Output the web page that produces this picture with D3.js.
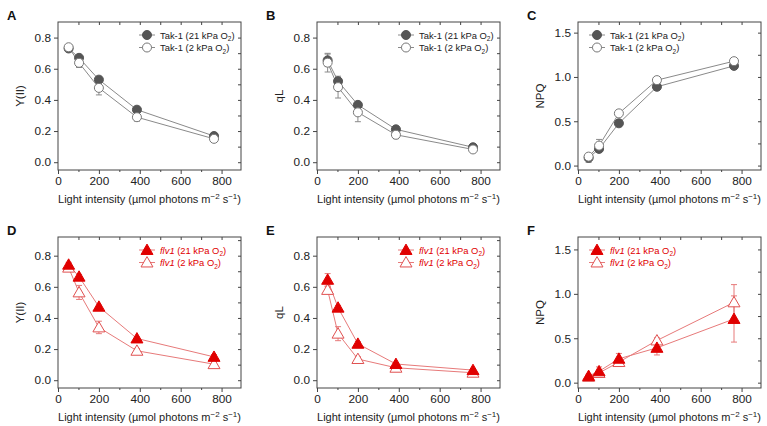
<!DOCTYPE html>
<html>
<head>
<meta charset="utf-8">
<script src="https://cdn.jsdelivr.net/npm/d3@7"></script>
<style>
  body { margin: 0; background: #fff; }
  svg { font-family: "Liberation Sans", Arial, sans-serif; }
</style>
</head>
<body>
<svg id="chart" width="767" height="426"></svg>
<script>
// light intensities (x)
var lightX = [52, 103, 200, 386, 763];

// Tak-1 values
var takYII21 = [0.73, 0.67, 0.53, 0.337, 0.168];
var takYII2 = [0.738, 0.638, 0.477, 0.289, 0.15];
var takYII21Err = [0.01, 0.015, 0.015, 0.015, 0.01];
var takYII2Err = [0.015, 0.03, 0.045, 0.025, 0.015];

var takQL21 = [0.654, 0.52, 0.368, 0.211, 0.096];
var takQL2 = [0.639, 0.482, 0.32, 0.176, 0.082];
var takQL21Err = [0.04, 0.02, 0.015, 0.015, 0.01];
var takQL2Err = [0.06, 0.07, 0.06, 0.025, 0.01];

var takNPQ21 = [0.087, 0.188, 0.477, 0.889, 1.125];
var takNPQ2 = [0.101, 0.225, 0.589, 0.964, 1.178];
var takNPQ21Err = [0.05, 0.03, 0.03, 0.02, 0.02];
var takNPQ2Err = [0.03, 0.07, 0.03, 0.03, 0.02];

// flv1 values
var flvYII21 = [0.742, 0.665, 0.472, 0.268, 0.15];
var flvYII2 = [0.723, 0.564, 0.339, 0.189, 0.103];
var flvYII21Err = [0.015, 0.015, 0.01, 0.01, 0.015];
var flvYII2Err = [0.02, 0.045, 0.04, 0.015, 0.015];

var flvQL21 = [0.645, 0.466, 0.234, 0.104, 0.065];
var flvQL2 = [0.58, 0.299, 0.136, 0.08, 0.048];
var flvQL21Err = [0.04, 0.015, 0.015, 0.01, 0.01];
var flvQL2Err = [0.02, 0.045, 0.015, 0.01, 0.01];

var flvNPQ21 = [0.075, 0.128, 0.269, 0.392, 0.717];
var flvNPQ2 = [0.065, 0.109, 0.232, 0.475, 0.904];
var flvNPQ21Err = [0.02, 0.05, 0.06, 0.08, 0.26];
var flvNPQ2Err = [0.01, 0.03, 0.03, 0.03, 0.2];

// tick labels
var xTicks = [0, 200, 400, 600, 800];
var yTicksSmall = [0.0, 0.2, 0.4, 0.6, 0.8];
var yTicksNPQ = [0.0, 0.5, 1.0, 1.5];

var gray = {line: "#8a8a8a", fill: "#555", stroke: "#777", text: "#222"};
var red = {line: "#e77a7a", fill: "#e00000", stroke: "#e05050", text: "#e00000"};

var panels = [
  {letter: "A", col: 0, row: 0, ylab: "Y(II)", yd: [-0.05, 0.9], yt: yTicksSmall, minor: 0.1,
   s21: takYII21, s2: takYII2, e21: takYII21Err, e2: takYII2Err, c: gray, name: "Tak-1", tri: false, legLeft: false},
  {letter: "B", col: 1, row: 0, ylab: "qL", yd: [-0.05, 0.9], yt: yTicksSmall, minor: 0.1,
   s21: takQL21, s2: takQL2, e21: takQL21Err, e2: takQL2Err, c: gray, name: "Tak-1", tri: false, legLeft: false},
  {letter: "C", col: 2, row: 0, ylab: "NPQ", yd: [-0.05, 1.62], yt: yTicksNPQ, minor: 0.25,
   s21: takNPQ21, s2: takNPQ2, e21: takNPQ21Err, e2: takNPQ2Err, c: gray, name: "Tak-1", tri: false, legLeft: true},
  {letter: "D", col: 0, row: 1, ylab: "Y(II)", yd: [-0.05, 0.92], yt: yTicksSmall, minor: 0.1,
   s21: flvYII21, s2: flvYII2, e21: flvYII21Err, e2: flvYII2Err, c: red, name: "flv1", tri: true, legLeft: false},
  {letter: "E", col: 1, row: 1, ylab: "qL", yd: [-0.05, 0.92], yt: yTicksSmall, minor: 0.1,
   s21: flvQL21, s2: flvQL2, e21: flvQL21Err, e2: flvQL2Err, c: red, name: "flv1", tri: true, legLeft: false},
  {letter: "F", col: 2, row: 1, ylab: "NPQ", yd: [-0.06, 1.64], yt: yTicksNPQ, minor: 0.25,
   s21: flvNPQ21, s2: flvNPQ2, e21: flvNPQ21Err, e2: flvNPQ2Err, c: red, name: "flv1", tri: true, legLeft: true}
];

var colLeft = [58, 317, 578];
var rowTop = [22, 237];
var rowBottom = [170, 388];
var plotW = 183;

var svg = d3.select("#chart");
var frameColor = "#444";

panels.forEach(function(p) {
  var left = colLeft[p.col], top = rowTop[p.row], bottom = rowBottom[p.row];
  var x = d3.scaleLinear().domain([0, 895]).range([left, left + plotW]);
  var y = d3.scaleLinear().domain(p.yd).range([bottom, top]);
  var g = svg.append("g");

  // panel letter
  g.append("text").attr("x", left - 51).attr("y", top - 2)
    .attr("font-size", 13).attr("font-weight", "bold").attr("fill", "#111").text(p.letter);

  // bottom axis
  g.append("g").attr("transform", "translate(0," + bottom + ")")
    .call(d3.axisBottom(x).tickValues(xTicks).tickSize(4).tickPadding(3).tickFormat(d3.format("d")));
  g.append("g").attr("transform", "translate(0," + bottom + ")")
    .call(d3.axisBottom(x).tickValues([100, 300, 500, 700]).tickSize(2).tickFormat(""));
  // top axis (inward)
  g.append("g").attr("transform", "translate(0," + top + ")")
    .call(d3.axisBottom(x).tickValues(d3.range(100, 900, 100)).tickSize(3).tickFormat(""));
  // left axis
  g.append("g").attr("transform", "translate(" + left + ",0)")
    .call(d3.axisLeft(y).tickValues(p.yt).tickSize(4).tickPadding(3).tickFormat(d3.format(".1f")));
  // right axis (inward)
  var rightTicks = d3.range(0, p.yd[1], p.minor);
  g.append("g").attr("transform", "translate(" + (left + plotW) + ",0)")
    .call(d3.axisLeft(y).tickValues(rightTicks).tickSize(3).tickFormat(""));

  g.selectAll(".domain").remove();
  g.selectAll(".tick line").attr("stroke", frameColor);
  g.selectAll(".tick text").attr("font-size", 11.8).attr("fill", "#222")
    .attr("font-family", "Liberation Sans, Arial, sans-serif");

  // frame
  g.append("rect").attr("x", left).attr("y", top).attr("width", plotW).attr("height", bottom - top)
    .attr("fill", "none").attr("stroke", frameColor).attr("stroke-width", 1);

  // y label
  g.append("text")
    .attr("transform", "translate(" + (left - 34) + "," + ((top + bottom) / 2) + ") rotate(-90)")
    .attr("text-anchor", "middle").attr("font-size", 11.5).attr("fill", "#222").text(p.ylab);

  // x label
  var xl = g.append("text").attr("x", left + plotW / 2).attr("y", bottom + 33)
    .attr("text-anchor", "middle").attr("font-size", 11).attr("fill", "#222");
  xl.append("tspan").text("Light intensity (\u00b5mol photons m");
  xl.append("tspan").attr("dy", -4).attr("font-size", 8).text("\u22122");
  xl.append("tspan").attr("dy", 4).text(" s");
  xl.append("tspan").attr("dy", -4).attr("font-size", 8).text("\u22121");
  xl.append("tspan").attr("dy", 4).text(")");

  var line = d3.line().x(function(d) { return x(d[0]); }).y(function(d) { return y(d[1]); });
  var series = [
    {vals: p.s21, err: p.e21, filled: true},
    {vals: p.s2, err: p.e2, filled: false}
  ];
  if (p.tri) series.reverse();

  series.forEach(function(s) {
    var pts = lightX.map(function(xv, i) { return [xv, s.vals[i], s.err[i]]; });
    g.append("path").datum(pts).attr("d", line).attr("fill", "none")
      .attr("stroke", p.c.line).attr("stroke-width", 1);
    var eb = g.selectAll(null).data(pts).enter().append("g");
    eb.append("line").attr("x1", function(d) { return x(d[0]); }).attr("x2", function(d) { return x(d[0]); })
      .attr("y1", function(d) { return y(d[1] - d[2]); }).attr("y2", function(d) { return y(d[1] + d[2]); })
      .attr("stroke", p.c.line).attr("stroke-width", 1);
    [-1, 1].forEach(function(sg) {
      eb.append("line").attr("x1", function(d) { return x(d[0]) - 3; }).attr("x2", function(d) { return x(d[0]) + 3; })
        .attr("y1", function(d) { return y(d[1] + sg * d[2]); }).attr("y2", function(d) { return y(d[1] + sg * d[2]); })
        .attr("stroke", p.c.line).attr("stroke-width", 1);
    });
  });

  function drawMarker(sel, filled) {
    var sym = d3.symbol().type(p.tri ? d3.symbolTriangle : d3.symbolCircle).size(p.tri ? 62 : 64);
    sel.attr("d", sym)
      .attr("fill", filled ? p.c.fill : "#fff")
      .attr("stroke", filled ? p.c.fill : p.c.stroke)
      .attr("stroke-width", 1);
  }

  series.forEach(function(s) {
    g.selectAll(null).data(lightX.map(function(xv, i) { return [xv, s.vals[i]]; })).enter()
      .append("path")
      .attr("transform", function(d) { return "translate(" + x(d[0]) + "," + (y(d[1]) + (p.tri ? 1 : 0)) + ")"; })
      .call(drawMarker, s.filled);
  });

  // legend
  var legX = p.legLeft ? left + 19 : left + plotW - 94;
  var legY = top + 13;
  [{lab: "21", filled: true}, {lab: "2", filled: false}].forEach(function(it, i) {
    var yy = legY + i * 12.5;
    g.append("line").attr("x1", legX - 8).attr("x2", legX + 8).attr("y1", yy).attr("y2", yy)
      .attr("stroke", p.c.line).attr("stroke-width", 1);
    g.append("path").attr("transform", "translate(" + legX + "," + (yy + (p.tri ? 1 : 0)) + ")").call(drawMarker, it.filled);
    var t = g.append("text").attr("x", legX + 13).attr("y", yy + 3.5).attr("font-size", 9.4).attr("fill", p.c.text);
    t.append("tspan").attr("font-style", p.tri ? "italic" : "normal").text(p.name);
    t.append("tspan").text(" (" + it.lab + " kPa O");
    t.append("tspan").attr("dy", 2.5).attr("font-size", 6.5).text("2");
    t.append("tspan").attr("dy", -2.5).text(")");
  });
});
</script>
</body>
</html>
